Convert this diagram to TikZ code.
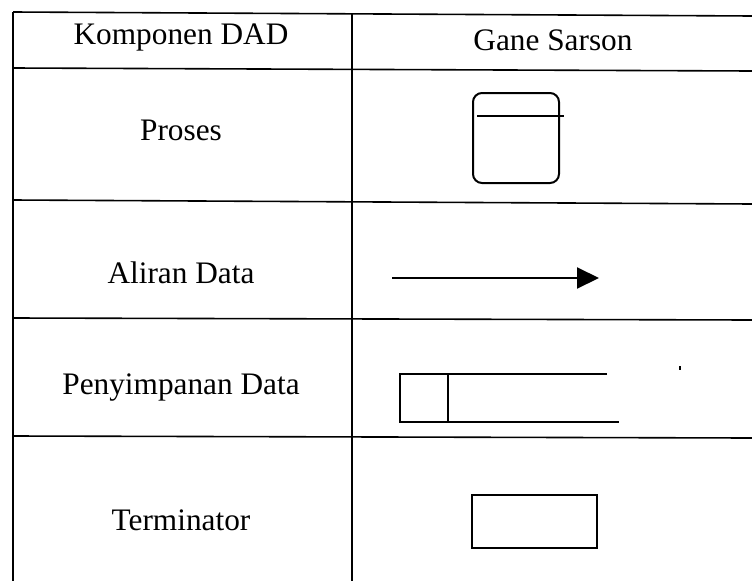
\documentclass[tikz,border=0pt]{standalone}
\usepackage{fontspec}
\setmainfont{Liberation Serif}
\usetikzlibrary{arrows.meta}
\begin{document}
\begin{tikzpicture}[x=1pt,y=-1pt,
  grid/.style={line width=1.6pt,black},
  symline/.style={line width=2pt,black},
  lbl/.style={font=\fontsize{31.3}{36}\selectfont,inner sep=0pt,anchor=center}]
\useasboundingbox (0,0) rectangle (752,581);
% table lines
\draw[grid] (13,12) -- (752,16);
\draw[grid] (13,12) -- (13,581);
\draw[grid] (352,13) -- (352,581);
\draw[grid] (13,68) -- (752,71);
\draw[grid] (13,200) -- (752,204);
\draw[grid] (13,318) -- (752,320);
\draw[grid] (13,436) -- (752,438);
% texts
\node[lbl] (h1) at (181,37) {Komponen DAD};
\node[lbl] (h2) at (553,40) {Gane Sarson};
\node[lbl] (t1) at (181,130) {Proses};
\node[lbl] (t2) at (181,273) {Aliran Data};
\node[lbl] (t3) at (181,388) {Penyimpanan Data};
\node[lbl] (t4) at (181,520) {Terminator};
% process symbol
\draw[symline,rounded corners=9pt] (473,93) rectangle (559,183);
\draw[symline] (477,116) -- (564,116);
% data flow
\coordinate (a0) at (392,278);
\coordinate (a1) at (599,278);
\draw[symline,-{Triangle[length=22pt,width=21pt]}] (a0) -- (a1);
% data store
\draw[symline] (607,374) -- (400,374) -- (400,422) -- (619,422);
\draw[symline] (448,374) -- (448,422);
\draw[line width=1.2pt] (680,366) -- (680,370);
% terminator
\draw[symline] (472,495) rectangle (597,548);
\end{tikzpicture}
\end{document}
